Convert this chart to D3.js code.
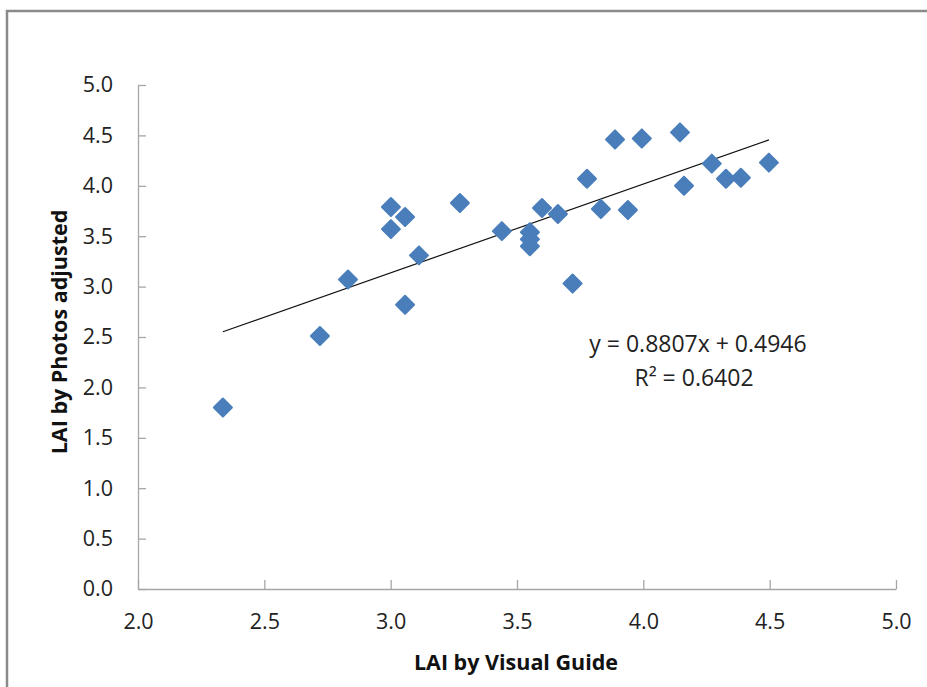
<!DOCTYPE html>
<html lang="en">
<head>
  <meta charset="UTF-8">
  <title>LAI scatter</title>
  <script src="https://d3js.org/d3.v7.min.js"></script>
  <style>
    body { margin: 0; padding: 0; background: #fff; }
    svg { display: block; font-family: "Open Sans", sans-serif; }
    .axis path, .axis line { stroke: #a6a6a6; stroke-width: 1.3; }
    .axis text { font-size: 21.5px; fill: #222; font-family: "Open Sans", sans-serif; }
    .title { font-size: 21.5px; font-weight: bold; fill: #111; }
    .eq { font-size: 23px; fill: #222; }
  </style>
</head>
<body>
<svg id="chart" width="927" height="687"></svg>

<script>
  // LAI from visual guide vs LAI from photos (adjusted)
  const visualLAI = [2.336, 2.72, 2.831, 3.001, 3.001, 3.057, 3.057, 3.112, 3.274,
                     3.44, 3.551, 3.551, 3.551, 3.599, 3.662, 3.72, 3.777, 3.832,
                     3.888, 3.939, 3.994, 4.145, 4.161, 4.271, 4.327, 4.386, 4.497];
  const photoLAI  = [1.80, 2.51, 3.07, 3.79, 3.57, 3.69, 2.82, 3.31, 3.83,
                     3.55, 3.54, 3.47, 3.40, 3.78, 3.72, 3.03, 4.07, 3.77,
                     4.46, 3.76, 4.47, 4.53, 4.00, 4.22, 4.07, 4.08, 4.23];
  const xTicks = [2.0, 2.5, 3.0, 3.5, 4.0, 4.5, 5.0];
  const yTicks = [0.0, 0.5, 1.0, 1.5, 2.0, 2.5, 3.0, 3.5, 4.0, 4.5, 5.0];
  const slope = 0.8807, intercept = 0.4946;

  const svg = d3.select("#chart");

  // chart area border (runs off the right/bottom edge)
  svg.append("rect")
    .attr("x", 7).attr("y", 11)
    .attr("width", 940).attr("height", 700)
    .attr("fill", "none")
    .attr("stroke", "#8a8a8a")
    .attr("stroke-width", 2.5);

  const x = d3.scaleLinear().domain([2, 5]).range([138, 896]);
  const y = d3.scaleLinear().domain([0, 5]).range([589, 85]);

  svg.append("g")
      .attr("class", "axis")
      .attr("transform", `translate(0,${y(0)})`)
      .call(d3.axisBottom(x).tickValues(xTicks).tickFormat(d3.format(".1f"))
        .tickSizeInner(-9).tickSizeOuter(0).tickPadding(25));

  svg.append("g")
      .attr("class", "axis")
      .attr("transform", `translate(${x(2)},0)`)
      .call(d3.axisLeft(y).tickValues(yTicks).tickFormat(d3.format(".1f"))
        .tickSizeInner(-8).tickSizeOuter(0).tickPadding(25));

  // trendline over the data range
  const xr = d3.extent(visualLAI);
  svg.append("line")
    .attr("x1", x(xr[0])).attr("y1", y(slope * xr[0] + intercept))
    .attr("x2", x(xr[1])).attr("y2", y(slope * xr[1] + intercept))
    .attr("stroke", "#111")
    .attr("stroke-width", 1.2);

  // diamonds
  const pts = visualLAI.map((v, i) => ({ x: v, y: photoLAI[i] }));
  const r = 9;
  svg.append("g")
    .selectAll("path")
    .data(pts)
    .enter().append("path")
      .attr("d", `M0,${-r}L${r},0L0,${r}L${-r},0Z`)
      .attr("transform", d => `translate(${x(d.x)},${y(d.y)})`)
      .attr("fill", "#4a7ebb")
      .attr("stroke", "#4a7ebb")
      .attr("stroke-width", 2)
      .attr("stroke-linejoin", "round");

  // equation labels
  svg.append("text").attr("class", "eq")
    .attr("x", 698).attr("y", 352).attr("text-anchor", "middle")
    .text("y = 0.8807x + 0.4946");
  svg.append("text").attr("class", "eq")
    .attr("x", 694).attr("y", 386).attr("text-anchor", "middle")
    .text("R² = 0.6402");

  // axis titles
  svg.append("text").attr("class", "title")
    .attr("x", 516).attr("y", 670).attr("text-anchor", "middle")
    .text("LAI by Visual Guide");
  svg.append("text").attr("class", "title")
    .attr("transform", "translate(67,332) rotate(-90)")
    .attr("text-anchor", "middle")
    .text("LAI by Photos adjusted");
</script>
</body>
</html>
